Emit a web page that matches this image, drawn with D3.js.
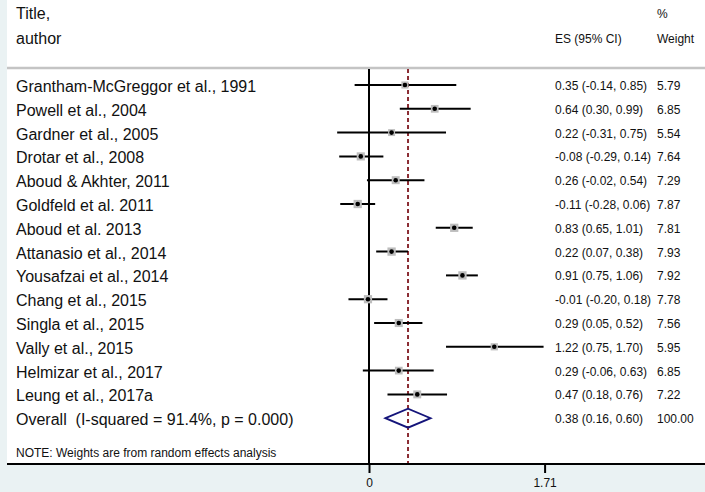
<!DOCTYPE html>
<html>
<head>
<meta charset="utf-8">
<script src="https://cdn.jsdelivr.net/npm/d3@7"></script>
<style>
  html, body { margin: 0; padding: 0; background: #eaf2f3; }
  svg { display: block; font-family: "Liberation Sans", Arial, Helvetica, sans-serif; }
  svg text { white-space: pre; }
</style>
</head>
<body>
<svg id="chart" width="705" height="492"></svg>
<script>
// Studies, effect sizes (ES) with 95% CI and random-effects weights
const studies = [
  "Grantham-McGreggor et al., 1991",
  "Powell et al., 2004",
  "Gardner et al., 2005",
  "Drotar et al., 2008",
  "Aboud & Akhter, 2011",
  "Goldfeld et al. 2011",
  "Aboud et al. 2013",
  "Attanasio et al., 2014",
  "Yousafzai et al., 2014",
  "Chang et al., 2015",
  "Singla et al., 2015",
  "Vally et al., 2015",
  "Helmizar et al., 2017",
  "Leung et al., 2017a"
];
const es      = [0.35, 0.64, 0.22, -0.08, 0.26, -0.11, 0.83, 0.22, 0.91, -0.01, 0.29, 1.22, 0.29, 0.47];
const ciLow   = [-0.14, 0.30, -0.31, -0.29, -0.02, -0.28, 0.65, 0.07, 0.75, -0.20, 0.05, 0.75, -0.06, 0.18];
const ciHigh  = [0.85, 0.99, 0.75, 0.14, 0.54, 0.06, 1.01, 0.38, 1.06, 0.18, 0.52, 1.70, 0.63, 0.76];
const weights = [5.79, 6.85, 5.54, 7.64, 7.29, 7.87, 7.81, 7.93, 7.92, 7.78, 7.56, 5.95, 6.85, 7.22];

// Pooled estimate
const overallLabel = "Overall  (I-squared = 91.4%, p = 0.000)";
const overallES = 0.38, overallLow = 0.16, overallHigh = 0.60, overallWeight = 100.00;

const tickValues = [0, 1.71];
const tickLabels = ["0", "1.71"];
const noteText = "NOTE: Weights are from random effects analysis";

const svg = d3.select("#chart");
const W = 705, H = 492;

// Geometry
const panelLeft = 7, axisY = 464, headerRuleY = 68;
const firstRowY = 85, rowStep = 23.8;

const x = d3.scaleLinear().domain([0, 1.71]).range([369, 544.6]);
const y = d3.scaleLinear().domain([0, 1]).range([firstRowY, firstRowY + rowStep]);

// Two-decimal numbers with a plain hyphen for negatives
const fmt2 = d3.formatLocale({ decimal: ".", thousands: ",", grouping: [3], currency: ["", ""], minus: "-" }).format(".2f");
const esText = (e, l, h) => `${fmt2(e)} (${fmt2(l)}, ${fmt2(h)})`;

// White plotting panel
svg.append("rect")
  .attr("x", panelLeft).attr("y", 0)
  .attr("width", W - panelLeft).attr("height", axisY)
  .attr("fill", "#ffffff");

// Header rule
svg.append("line")
  .attr("x1", panelLeft).attr("x2", W)
  .attr("y1", headerRuleY).attr("y2", headerRuleY)
  .attr("stroke", "#c4c4c4").attr("stroke-width", 2.5);

// Column headings
const head = svg.append("g").attr("fill", "#111");
head.append("text").attr("x", 16).attr("y", 19).attr("font-size", 16).text("Title,");
head.append("text").attr("x", 16).attr("y", 44).attr("font-size", 16).text("author");
head.append("text").attr("x", 555).attr("y", 43).attr("font-size", 12).text("ES (95% CI)");
head.append("text").attr("x", 657).attr("y", 18).attr("font-size", 12).text("%");
head.append("text").attr("x", 657).attr("y", 43).attr("font-size", 12).text("Weight");

// Null line at zero
svg.append("line")
  .attr("x1", x(0)).attr("x2", x(0))
  .attr("y1", headerRuleY + 1).attr("y2", axisY)
  .attr("stroke", "#000").attr("stroke-width", 2);

// Dashed line at the pooled estimate
svg.append("line")
  .attr("x1", x(overallES)).attr("x2", x(overallES))
  .attr("y1", headerRuleY + 1).attr("y2", axisY)
  .attr("stroke", "#8b2c33").attr("stroke-width", 2)
  .attr("stroke-dasharray", "4,3");

// Study rows
const rows = studies.map((s, i) => ({
  name: s, es: es[i], lo: ciLow[i], hi: ciHigh[i], w: weights[i], i
}));

const g = svg.append("g");

g.selectAll("line.ci").data(rows).join("line")
  .attr("class", "ci")
  .attr("x1", d => x(d.lo)).attr("x2", d => x(d.hi))
  .attr("y1", d => y(d.i)).attr("y2", d => y(d.i))
  .attr("stroke", "#000").attr("stroke-width", 2);

const side = d => 2.95 * Math.sqrt(d.w);
g.selectAll("rect.box").data(rows).join("rect")
  .attr("class", "box")
  .attr("x", d => x(d.es) - side(d) / 2)
  .attr("y", d => y(d.i) - side(d) / 2)
  .attr("width", side).attr("height", side)
  .attr("fill", "#bdbdbd");

g.selectAll("circle.pt").data(rows).join("circle")
  .attr("class", "pt")
  .attr("cx", d => x(d.es)).attr("cy", d => y(d.i))
  .attr("r", 2.3).attr("fill", "#000");

// Labels
const lab = svg.append("g").attr("fill", "#111");
lab.selectAll("text.name").data(rows).join("text")
  .attr("class", "name")
  .attr("x", 16).attr("y", d => y(d.i) + 7)
  .attr("font-size", 16).text(d => d.name);
lab.selectAll("text.es").data(rows).join("text")
  .attr("class", "es")
  .attr("x", 555).attr("y", d => y(d.i) + 5)
  .attr("font-size", 12).text(d => esText(d.es, d.lo, d.hi));
lab.selectAll("text.wt").data(rows).join("text")
  .attr("class", "wt")
  .attr("x", 657).attr("y", d => y(d.i) + 5)
  .attr("font-size", 12).text(d => fmt2(d.w));

// Overall row: diamond
const oy = y(studies.length);
const diamond = [
  [x(overallLow), oy], [x(overallES), oy - 9.5],
  [x(overallHigh), oy], [x(overallES), oy + 9.5]
];
svg.append("path")
  .attr("d", d3.line()(diamond) + "Z")
  .attr("fill", "none").attr("stroke", "#14147a").attr("stroke-width", 1.8)
  .attr("stroke-linejoin", "miter");

lab.append("text").attr("x", 16).attr("y", oy + 7).attr("font-size", 16).text(overallLabel);
lab.append("text").attr("x", 555).attr("y", oy + 5).attr("font-size", 12)
  .text(esText(overallES, overallLow, overallHigh));
lab.append("text").attr("x", 657).attr("y", oy + 5).attr("font-size", 12)
  .text(fmt2(overallWeight));

// Note
lab.append("text").attr("x", 16).attr("y", 457).attr("font-size", 12).text(noteText);

// Axis baseline across the panel
svg.append("line")
  .attr("x1", panelLeft).attr("x2", W)
  .attr("y1", axisY).attr("y2", axisY)
  .attr("stroke", "#000").attr("stroke-width", 2);

// x axis ticks
const axis = d3.axisBottom(x)
  .tickValues(tickValues)
  .tickFormat((d, i) => tickLabels[i])
  .tickSize(9).tickPadding(5);
const ax = svg.append("g").attr("transform", `translate(0,${axisY})`).call(axis);
ax.select(".domain").remove();
ax.selectAll(".tick line").attr("stroke", "#000").attr("stroke-width", 2);
ax.selectAll(".tick text").attr("font-size", 12).attr("fill", "#111")
  .attr("font-family", "\"Liberation Sans\", Arial, sans-serif");
</script>
</body>
</html>
